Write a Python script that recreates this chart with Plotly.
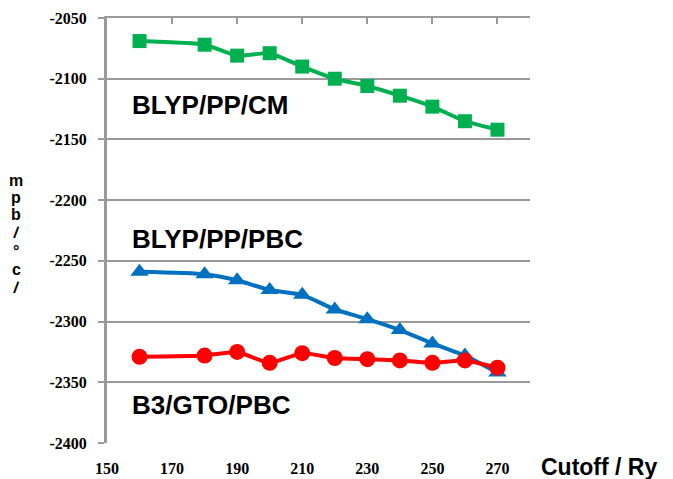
import plotly.graph_objects as go

# Plane-wave cutoff (Ry)
cutoff = [160, 180, 190, 200, 210, 220, 230, 240, 250, 260, 270]

# Computed values for each method
blyp_pp_cm = [-2069, -2072, -2081, -2079, -2090, -2100, -2106, -2114, -2123, -2135, -2142]
blyp_pp_pbc = [-2259, -2261, -2266, -2274, -2278, -2290, -2298, -2307, -2318, -2328, -2342]
b3_gto_pbc = [-2329, -2328, -2325, -2334, -2326, -2330, -2331, -2332, -2334, -2332, -2338]

x_ticks = [150, 170, 190, 210, 230, 250, 270]
y_ticks = [-2050, -2100, -2150, -2200, -2250, -2300, -2350, -2400]

GREEN = "#00B050"
BLUE = "#0070C0"
RED = "#FF0000"
GRID = "#9A9A9A"
TICK_FONT = dict(family="Liberation Serif", size=16, color="black", weight="bold")

fig = go.Figure()


def add_series(y, color, symbol, size):
    fig.add_trace(go.Scatter(
        x=cutoff, y=y, mode="lines+markers",
        line=dict(color=color, width=4, shape="spline", smoothing=0.5),
        marker=dict(color=color, symbol=symbol, size=size),
        showlegend=False, hoverinfo="skip",
    ))


add_series(blyp_pp_cm, GREEN, "square", 14)
add_series(blyp_pp_pbc, BLUE, "triangle-up", 16)
add_series(b3_gto_pbc, RED, "circle", 16)

# invisible trace on the secondary axis carrying the bottom tick labels
fig.add_trace(go.Scatter(x=[x_ticks[0]], y=[y_ticks[-1]], xaxis="x2", mode="markers",
                         marker=dict(opacity=0), showlegend=False, hoverinfo="skip"))

label_font = dict(family="Liberation Sans, Arial", size=26, color="black")
for text, yv in [("<b>BLYP/PP/CM</b>", -2122), ("<b>BLYP/PP/PBC</b>", -2232),
                 ("<b>B3/GTO/PBC</b>", -2369)]:
    fig.add_annotation(x=157, y=yv, text=text, showarrow=False, xanchor="left",
                       yanchor="middle", font=label_font)

fig.add_annotation(xref="paper", yref="paper", x=1.0, y=0, xanchor="left", yanchor="top",
                   xshift=9, yshift=-9, text="<b>Cutoff / Ry</b>", showarrow=False,
                   font=dict(family="Liberation Sans, Arial", size=23, color="black"))

# stacked axis title glyphs
title_font = dict(family="Liberation Sans, Arial", size=16, color="black")
for ch, py, ang in [("<b>m</b>", 180, 0), ("<b>p</b>", 197, 0), ("<b>b</b>", 214, 0),
                    ("<b>/</b>", 232, 10), ("<b>°</b>", 252, 0), ("<b>c</b>", 269, 0),
                    ("<b>/</b>", 287, 10)]:
    fig.add_annotation(xref="paper", yref="paper", x=(16 - 107) / 423,
                       y=(443 - py) / 425, text=ch, showarrow=False, textangle=ang,
                       xanchor="center", yanchor="middle", font=title_font)

fig.update_layout(
    width=673, height=479,
    margin=dict(l=107, r=143, t=18, b=36),
    paper_bgcolor="white", plot_bgcolor="white",
    xaxis=dict(
        range=[150, 280], side="top", showline=True, linecolor=GRID, linewidth=2,
        ticks="inside", ticklen=6, tickwidth=2, tickcolor=GRID, automargin=False,
        tickvals=x_ticks, showticklabels=False, showgrid=False, zeroline=False,
    ),
    xaxis2=dict(
        range=[150, 280], overlaying="x", side="bottom", anchor="y", automargin=False,
        tickvals=x_ticks, ticktext=[str(v) for v in x_ticks],
        showgrid=False, zeroline=False, showline=False, ticks="",
        tickfont=TICK_FONT, ticklabelstandoff=14,
    ),
    yaxis=dict(
        range=[-2400, -2050], tickvals=y_ticks, ticktext=[str(v) for v in y_ticks],
        showline=True, linecolor=GRID, linewidth=3, automargin=False,
        ticks="outside", ticklen=6, tickwidth=2, tickcolor=GRID,
        showgrid=True, gridcolor=GRID, gridwidth=2, zeroline=False,
        tickfont=TICK_FONT, ticklabelstandoff=8,
    ),
)

fig.write_html("out.html")
